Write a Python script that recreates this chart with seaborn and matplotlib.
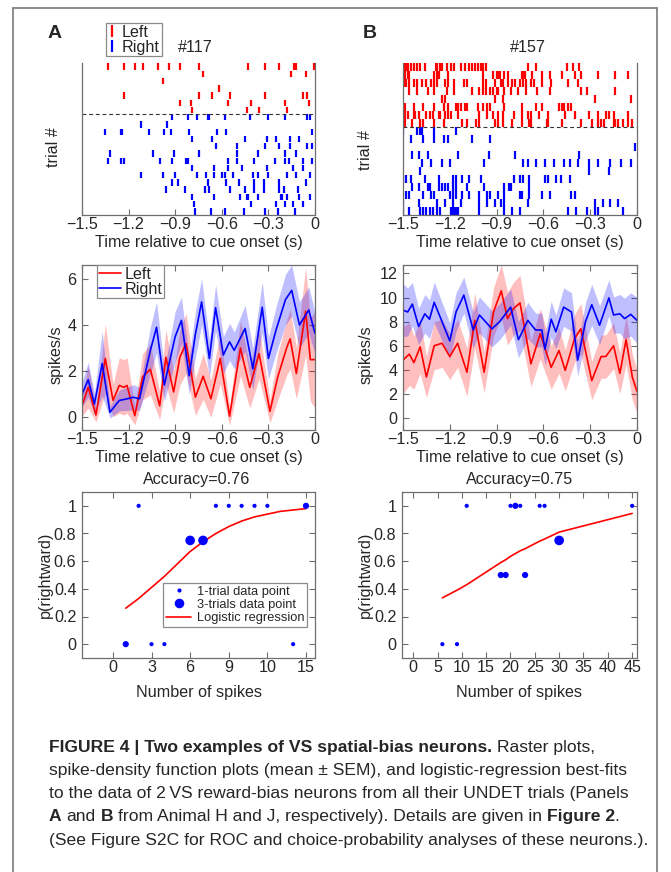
import numpy as np
import pandas as pd
import matplotlib
matplotlib.use('Agg')
import matplotlib.pyplot as plt
from matplotlib.lines import Line2D
from matplotlib.transforms import IdentityTransform
import seaborn as sns

W, H = 671, 872

# ---------------- raster data (spike times, s; trial 1 at top) ----------------
raster_a_left = [
    [-1.33, -1.23, -1.16, -1.11, -1.01, -0.94, -0.87, -0.75, -0.43, -0.32, -0.23, -0.135, -0.124, -0.006],
    [-0.72, -0.155, -0.058],
    [-0.98],
    [-0.62],
    [-1.23, -0.75, -0.66, -0.55, -0.32, -0.08, -0.05],
    [-0.87, -0.80, -0.56, -0.41, -0.19, -0.04],
    [-0.79, -0.44, -0.36, -0.18],
]
raster_a_right = [
    [-0.92, -0.82, -0.76, -0.69, -0.68, -0.58, -0.42, -0.30, -0.19, -0.05, -0.03],
    [-1.12, -0.95],
    [-1.35, -1.25, -1.24, -1.07, -0.97, -0.93, -0.81, -0.63, -0.57, -0.02],
    [-0.79, -0.66, -0.45, -0.31, -0.25, -0.16, -0.10],
    [-0.64, -0.50, -0.32, -0.23, -0.16, -0.05, -0.02],
    [-1.32, -1.04, -0.91, -0.75, -0.50, -0.37, -0.19, -0.12],
    [-1.33, -1.25, -1.23, -1.00, -0.92, -0.83, -0.82, -0.56, -0.50, -0.39, -0.26, -0.19, -0.17, -0.08, -0.02],
    [-0.79, -0.65, -0.56, -0.47, -0.31, -0.14, -0.08],
    [-1.12, -0.98, -0.90, -0.76, -0.70, -0.65, -0.60, -0.58, -0.53, -0.40, -0.37, -0.30, -0.18, -0.12, -0.03],
    [-0.92, -0.88, -0.69, -0.57, -0.49, -0.39, -0.33, -0.23, -0.06],
    [-0.96, -0.84, -0.71, -0.68, -0.55, -0.45, -0.39, -0.33, -0.23, -0.20, -0.11],
    [-0.79, -0.65, -0.48, -0.44, -0.43, -0.37, -0.22, -0.21, -0.18, -0.10, -0.03],
    [-0.78, -0.41, -0.25, -0.19, -0.14, -0.08],
    [-0.77, -0.67, -0.58, -0.46, -0.32, -0.24, -0.13],
]
raster_b_left = [
    [-1.49, -1.48, -1.47, -1.45, -1.43, -1.41, -1.39, -1.36, -1.29, -1.28, -1.26, -1.25, -1.22, -1.19, -1.17,
     -1.13, -1.10, -1.08, -1.06, -1.04, -1.02, -1.00, -0.99, -0.97, -0.70, -0.65, -0.45, -0.41, -0.37],
    [-1.50, -1.49, -1.47, -1.46, -1.30, -1.28, -1.27, -1.21, -0.99, -0.92, -0.90, -0.89, -0.88, -0.85, -0.83,
     -0.74, -0.73, -0.72, -0.67, -0.61, -0.56, -0.48, -0.40, -0.36, -0.25, -0.14, -0.06],
    [-1.50, -1.49, -1.48, -1.46, -1.43, -1.41, -1.38, -1.35, -1.32, -1.30, -1.28, -1.23, -1.21, -1.17, -1.11,
     -1.09, -0.99, -0.97, -0.91, -0.87, -0.86, -0.83, -0.80, -0.78, -0.75, -0.73, -0.71, -0.68, -0.66, -0.61,
     -0.55, -0.44, -0.38],
    [-1.46, -1.41, -1.34, -1.30, -1.22, -1.17, -1.06, -1.01, -0.99, -0.97, -0.94, -0.92, -0.90, -0.89, -0.85,
     -0.81, -0.76, -0.71, -0.64, -0.56, -0.36, -0.32, -0.14],
    [-1.25, -1.23, -0.91, -0.86, -0.27, -0.04],
    [-1.49, -1.43, -1.37, -1.30, -1.24, -1.21, -1.16, -1.15, -1.13, -1.10, -1.09, -1.02, -0.99, -0.96, -0.94,
     -0.85, -0.74, -0.65, -0.61, -0.50, -0.48, -0.47, -0.44, -0.42],
    [-1.49, -1.47, -1.43, -1.42, -1.40, -1.35, -1.33, -1.31, -1.27, -1.26, -1.23, -1.21, -1.19, -1.15, -1.01,
     -0.96, -0.92, -0.89, -0.86, -0.79, -0.74, -0.70, -0.68, -0.63, -0.57, -0.46, -0.40, -0.31, -0.25, -0.20,
     -0.18, -0.15, -0.06],
    [-1.49, -1.44, -1.39, -1.37, -1.30, -1.24, -1.12, -1.09, -1.03, -1.01, -0.91, -0.89, -0.86, -0.80, -0.74,
     -0.69, -0.68, -0.58, -0.57, -0.48, -0.36, -0.29, -0.25, -0.23, -0.21, -0.15, -0.14, -0.12, -0.09, -0.06, -0.03],
]
raster_b_right = [
    [-1.50, -1.41, -1.39, -1.38, -1.30, -1.16],
    [-1.45, -1.37, -1.30, -1.24, -1.21, -1.06, -0.94],
    [-0.01],
    [-1.44, -1.40, -1.34, -1.15, -0.95, -0.78, -0.37],
    [-1.38, -1.32, -1.25, -1.20, -0.98, -0.73, -0.70, -0.65, -0.59, -0.53, -0.47, -0.43, -0.38, -0.31, -0.25,
     -0.17, -0.10, -0.04],
    [-1.39, -0.31, -0.18],
    [-1.50, -1.48, -1.45, -1.36, -1.27, -1.18, -1.16, -1.12, -1.08, -1.00, -0.79, -0.75, -0.73, -0.69, -0.59,
     -0.57, -0.52, -0.49, -0.43],
    [-1.44, -1.40, -1.34, -1.33, -1.27, -1.25, -1.23, -1.21, -1.18, -1.16, -1.09, -0.98, -0.85, -0.82, -0.81, -0.69],
    [-1.48, -1.46, -1.37, -1.32, -1.30, -1.20, -1.18, -1.16, -1.12, -1.08, -1.01, -0.96, -0.94, -0.89, -0.85,
     -0.75, -0.74, -0.69, -0.61, -0.56, -0.42, -0.40],
    [-1.50, -1.40, -1.28, -1.23, -1.18, -1.13, -1.01, -0.96, -0.91, -0.87, -0.85, -0.70, -0.27, -0.22, -0.17, -0.12],
    [-1.50, -1.46, -1.39, -1.37, -1.35, -1.33, -1.31, -1.28, -1.26, -1.19, -1.18, -1.17, -1.16, -1.15, -1.01,
     -0.85, -0.80, -0.75, -0.44, -0.39, -0.32, -0.27, -0.25, -0.09],
]

# ---------------- spike density (mean, SEM) ----------------
sdf_a_right_t = [-1.50, -1.46, -1.42, -1.37, -1.32, -1.26, -1.21, -1.17, -1.13, -1.06, -1.02, -0.97, -0.90, -0.86,
                 -0.81, -0.77, -0.73, -0.68, -0.64, -0.59, -0.55, -0.52, -0.45, -0.40, -0.34, -0.30, -0.25, -0.19,
                 -0.15, -0.10, -0.04, 0.00]
sdf_a_right_m = [1.00, 1.63, 0.58, 2.33, 0.22, 0.73, 0.80, 0.87, 0.80, 2.90, 3.90, 1.40, 3.50, 4.20,
                 1.80, 3.60, 5.00, 2.55, 4.75, 2.70, 3.27, 2.90, 3.85, 2.10, 4.77, 2.55, 3.80, 5.10,
                 5.50, 4.00, 4.65, 3.64]
sdf_a_right_s = [0.55, 0.75, 0.45, 1.40, 0.25, 0.45, 0.50, 0.55, 0.50, 1.00, 1.10, 0.70, 1.10, 1.00,
                 0.80, 1.00, 1.00, 0.80, 1.00, 0.80, 0.80, 0.80, 1.00, 0.90, 1.10, 0.90, 1.00, 1.10,
                 1.10, 1.00, 1.00, 0.90]
sdf_a_left_t = [-1.50, -1.46, -1.41, -1.35, -1.30, -1.26, -1.23, -1.21, -1.16, -1.11, -1.06, -1.00, -0.96, -0.91,
                -0.87, -0.83, -0.77, -0.72, -0.67, -0.61, -0.55, -0.48, -0.42, -0.36, -0.29, -0.24, -0.18, -0.16,
                -0.12, -0.06, -0.03, 0.00]
sdf_a_left_m = [0.50, 1.30, 0.10, 2.55, 0.73, 1.38, 1.30, 1.38, 0.07, 1.75, 2.08, 0.50, 2.60, 1.10,
                2.60, 3.20, 0.87, 1.78, 0.80, 2.55, 0.05, 3.00, 1.30, 2.76, 0.26, 1.75, 3.06, 3.40,
                1.90, 4.60, 2.50, 2.50]
sdf_a_left_s = [0.45, 0.90, 0.30, 1.50, 0.70, 1.20, 1.20, 1.20, 0.40, 1.00, 1.10, 0.60, 1.20, 0.90,
                1.20, 1.30, 0.80, 1.00, 0.80, 1.10, 0.40, 1.20, 0.90, 1.10, 0.50, 1.00, 1.20, 1.30,
                1.10, 1.90, 1.80, 2.10]

sdf_b_right_t = [-1.50, -1.47, -1.44, -1.40, -1.36, -1.33, -1.30, -1.25, -1.20, -1.16, -1.11, -1.05, -1.01, -0.93,
                 -0.88, -0.81, -0.76, -0.70, -0.65, -0.61, -0.59, -0.55, -0.52, -0.47, -0.42, -0.38, -0.33, -0.29,
                 -0.24, -0.18, -0.15, -0.11, -0.08, -0.04, 0.00]
sdf_b_right_m = [8.95, 8.80, 9.45, 7.60, 8.65, 8.20, 9.60, 8.00, 6.40, 8.80, 10.20, 7.30, 8.55, 7.40,
                 8.00, 9.20, 6.50, 8.10, 7.30, 7.30, 5.70, 8.20, 7.15, 9.20, 8.80, 4.80, 8.00, 9.40,
                 7.70, 9.97, 8.55, 8.65, 8.25, 8.60, 8.10]
sdf_b_right_s = [2.20, 2.00, 1.80, 1.50, 1.60, 1.60, 1.70, 1.60, 1.50, 1.60, 1.50, 1.50, 1.50, 1.50,
                 1.50, 1.50, 1.50, 1.50, 1.40, 1.40, 1.30, 1.50, 1.40, 1.60, 1.60, 1.30, 1.60, 1.70,
                 1.60, 1.50, 1.50, 1.60, 1.70, 1.80, 1.90]
sdf_b_left_t = [-1.50, -1.46, -1.43, -1.39, -1.35, -1.30, -1.25, -1.20, -1.15, -1.09, -1.04, -0.98, -0.92, -0.87,
                -0.83, -0.79, -0.75, -0.68, -0.62, -0.55, -0.50, -0.46, -0.40, -0.36, -0.29, -0.23, -0.20, -0.15,
                -0.11, -0.07, -0.03, 0.00]
sdf_b_left_m = [4.80, 5.30, 4.60, 5.90, 3.40, 6.00, 6.20, 5.10, 6.20, 3.80, 8.10, 3.80, 8.80, 10.55,
                8.25, 9.10, 9.55, 4.50, 7.00, 4.20, 5.60, 3.95, 6.60, 7.40, 3.10, 5.10, 5.10, 6.00,
                3.70, 6.50, 3.40, 2.20]
sdf_b_left_s = [2.80, 2.60, 2.20, 2.20, 1.70, 2.00, 2.00, 1.90, 2.00, 2.00, 2.30, 1.70, 2.00, 2.20,
                2.20, 2.20, 2.30, 1.90, 2.10, 1.80, 1.90, 1.70, 2.00, 2.10, 1.60, 1.80, 1.80, 1.90,
                1.70, 2.00, 1.90, 1.80]

# ---------------- logistic regression panels ----------------
log_a_spikes = [2, 8, 9, 10, 11, 12, 15, 1, 3, 4, 14, 6, 7]
log_a_prob = [1, 1, 1, 1, 1, 1, 1, 0, 0, 0, 0, 0.75, 0.75]
log_a_ntrial = [1, 1, 1, 1, 1, 1, 2, 2, 1, 1, 1, 3, 3]
fit_a_x = [1, 2, 3, 4, 5, 6, 7, 8, 9, 10, 11, 12, 13, 14, 15]
fit_a_y = [0.26, 0.33, 0.41, 0.49, 0.58, 0.67, 0.74, 0.80, 0.85, 0.89, 0.92, 0.94, 0.96, 0.97, 0.98]
xtick_a = [0, 3, 6, 9, 12, 15]
xtick_a_lab = ['0', '3', '6', '9', '10', '15']

log_b_spikes = [11, 20, 21, 22, 26, 27, 45, 6, 9, 18, 19, 23, 30]
log_b_prob = [1, 1, 1, 1, 1, 1, 1, 0, 0, 0.5, 0.5, 0.5, 0.75]
log_b_ntrial = [1, 1, 2, 1, 1, 1, 1, 1, 1, 2, 2, 2, 3]
fit_b_x = [6, 9, 11, 18, 19, 20, 21, 22, 23, 26, 27, 30, 45]
fit_b_y = [0.335, 0.39, 0.43, 0.59, 0.61, 0.635, 0.655, 0.675, 0.69, 0.745, 0.76, 0.81, 0.945]
xtick_b = [0, 5, 10, 15, 20, 25, 30, 35, 40, 45]

RED, BLUE = '#ff0000', '#0000ff'
GRAY = '#6e6e6e'
FS = 11.6

sns.set_style('white')
plt.rcParams['font.family'] = ['Liberation Sans', 'DejaVu Sans']
plt.rcParams['axes.unicode_minus'] = True

fig = plt.figure(figsize=(W / 100, H / 100), dpi=100, facecolor='white')


def px_axes(x0, y0, x1, y1):
    return fig.add_axes([x0 / W, 1 - y1 / H, (x1 - x0) / W, (y1 - y0) / H])


def style(ax, box=True):
    for s in ax.spines.values():
        s.set_color(GRAY)
        s.set_linewidth(0.9)
    ax.tick_params(direction='in', length=4, width=0.8, color=GRAY, labelsize=FS,
                   top=box, right=box, bottom=True, left=True)
    ax.tick_params(axis='x', pad=1.5)
    ax.tick_params(axis='y', pad=4)


def raster(ax, left, right, title, tx):
    n_l = len(left)
    rows = left + right
    cols = [RED] * n_l + [BLUE] * len(right)
    ax.eventplot(rows, lineoffsets=np.arange(1, len(rows) + 1), linelengths=0.88,
                 linewidths=1.6, colors=cols)
    ax.axhline(n_l + 0.5, color='#333333', lw=0.8, ls=(0, (3.5, 2.5)))
    ax.set_xlim(-1.5, 0)
    ax.set_ylim(len(rows) + 0.5, 0.5)
    ax.set_yticks([])
    ax.set_xticks([-1.5, -1.2, -0.9, -0.6, -0.3, 0])
    ax.set_xticklabels(['\u22121.5', '\u22121.2', '\u22120.9', '\u22120.6', '\u22120.3', '0'])
    style(ax, box=False)
    ax.tick_params(left=False)
    ax.spines['top'].set_visible(False)
    ax.text(tx, 1.099, title, transform=ax.transAxes, ha='center', va='center', fontsize=FS)


def sdf(ax, ta, ma, sa, tb, mb, sb, ylim, yticks):
    for t, m, s, c in [(ta, ma, sa, RED), (tb, mb, sb, BLUE)]:
        t, m, s = np.array(t), np.array(m), np.array(s)
        ax.fill_between(t, m - s, m + s, color=c, alpha=0.25, lw=0)
    df = pd.concat([pd.DataFrame({'t': ta, 'rate': ma, 'side': 'Left'}),
                    pd.DataFrame({'t': tb, 'rate': mb, 'side': 'Right'})])
    sns.lineplot(data=df, x='t', y='rate', hue='side', palette={'Left': RED, 'Right': BLUE},
                 lw=1.2, ax=ax, legend=False, sort=True, solid_joinstyle='round')
    ax.set_xlim(-1.5, 0)
    ax.set_ylim(*ylim)
    ax.set_xticks([-1.5, -1.2, -0.9, -0.6, -0.3, 0])
    ax.set_xticklabels(['\u22121.5', '\u22121.2', '\u22120.9', '\u22120.6', '\u22120.3', '0'])
    ax.set_yticks(yticks)
    style(ax)


def logistic(ax, xs, ps, ns, fx, fy, xlim, xt, xtl, title, tx):
    df = pd.DataFrame({'spikes': xs, 'p': ps, 'n': ns})
    sns.scatterplot(data=df, x='spikes', y='p', size='n', sizes={1: 9, 2: 20, 3: 48},
                    color=BLUE, edgecolor='none', ax=ax, legend=False, zorder=3)
    ax.plot(fx, fy, color=RED, lw=1.2, zorder=2)
    ax.set_xlim(*xlim)
    ax.set_ylim(-0.1, 1.1)
    ax.set_xticks(xt)
    ax.set_xticklabels(xtl)
    ax.set_yticks([0, 0.2, 0.4, 0.6, 0.8, 1])
    ax.set_yticklabels(['0', '0.2', '0.4', '0.6', '0.8', '1'])
    style(ax)
    ax.text(tx, 1.078, title, transform=ax.transAxes, ha='center', va='center', fontsize=FS)


def labels(ax, xl, yl, xpos, ypos, ylx, yly):
    ax.set_xlabel(xl, fontsize=FS, va='center')
    ax.xaxis.set_label_coords(xpos, ypos)
    ax.set_ylabel(yl, fontsize=FS, va='center')
    ax.yaxis.set_label_coords(ylx, yly)


# ---- row 1: rasters
ax1 = px_axes(82, 63, 315, 215)
raster(ax1, raster_a_left, raster_a_right, '#117', 0.485)
labels(ax1, 'Time relative to cue onset (s)', 'trial #', 0.5, -0.178, -0.124, 0.45)
ax2 = px_axes(403, 63, 637, 215)
raster(ax2, raster_b_left, raster_b_right, '#157', 0.534)
labels(ax2, 'Time relative to cue onset (s)', 'trial #', 0.5, -0.178, -0.162, 0.43)

leg_h = [Line2D([], [], color=RED, marker='|', ls='none', ms=9, mew=1.6),
         Line2D([], [], color=BLUE, marker='|', ls='none', ms=9, mew=1.6)]
lg = fig.legend(leg_h, ['Left', 'Right'], loc='upper left', bbox_to_anchor=(106 / W, 1 - 23 / H),
                borderaxespad=0, fontsize=FS, handlelength=0.6, handletextpad=0.3, borderpad=0.1,
                labelspacing=0.0, fancybox=False, framealpha=1, edgecolor='#8a8a8a')
lg.get_frame().set_linewidth(0.9)

# ---- row 2: spike density
ax3 = px_axes(82, 265, 315, 430)
sdf(ax3, sdf_a_left_t, sdf_a_left_m, sdf_a_left_s, sdf_a_right_t, sdf_a_right_m, sdf_a_right_s,
    (-0.55, 6.6), [0, 2, 4, 6])
labels(ax3, 'Time relative to cue onset (s)', 'spikes/s', 0.5, -0.164, -0.112, 0.455)
lh = [Line2D([], [], color=RED, lw=1.2), Line2D([], [], color=BLUE, lw=1.2)]
lg3 = ax3.legend(lh, ['Left', 'Right'], loc='upper left', bbox_to_anchor=((97 - 82) / 233, 1.0),
                 borderaxespad=0, fontsize=FS, handlelength=1.4, handletextpad=0.2, borderpad=0.1,
                 labelspacing=0.0, fancybox=False, framealpha=1, edgecolor='#8a8a8a')
lg3.get_frame().set_linewidth(0.9)

ax4 = px_axes(403, 265, 637, 430)
sdf(ax4, sdf_b_left_t, sdf_b_left_m, sdf_b_left_s, sdf_b_right_t, sdf_b_right_m, sdf_b_right_s,
    (-1.0, 12.7), [0, 2, 4, 6, 8, 10, 12])
labels(ax4, 'Time relative to cue onset (s)', 'spikes/s', 0.5, -0.164, -0.158, 0.455)

# ---- row 3: logistic regression
ax5 = px_axes(82, 492, 315, 658)
logistic(ax5, log_a_spikes, log_a_prob, log_a_ntrial, fit_a_x, fit_a_y, (-2.4, 15.7),
         xtick_a, xtick_a_lab, 'Accuracy=0.76', 0.494)
labels(ax5, 'Number of spikes', 'p(rightward)', 0.5, -0.205, -0.159, 0.5)
lh5 = [Line2D([], [], color=BLUE, marker='o', ls='none', ms=3.0, mec='none'),
       Line2D([], [], color=BLUE, marker='o', ls='none', ms=6.9, mec='none'),
       Line2D([], [], color=RED, lw=1.2)]
lg5 = ax5.legend(lh5, ['1-trial data point', '3-trials data point', 'Logistic regression'],
                 loc='upper left', bbox_to_anchor=((163 - 82) / 233, 1 - (583 - 492) / 166),
                 borderaxespad=0, fontsize=9.3, handlelength=2.0, handletextpad=0.4, borderpad=0.2,
                 labelspacing=0.1, fancybox=False, framealpha=1, edgecolor='#8a8a8a')
lg5.get_frame().set_linewidth(0.9)

ax6 = px_axes(402, 492, 637, 658)
logistic(ax6, log_b_spikes, log_b_prob, log_b_ntrial, fit_b_x, fit_b_y, (-2.3, 46),
         xtick_b, [str(v) for v in xtick_b], 'Accuracy=0.75', 0.502)
labels(ax6, 'Number of spikes', 'p(rightward)', 0.5, -0.205, -0.157, 0.5)

# ---- panel letters
fig.text(55 / W, 1 - 33 / H, 'A', fontsize=14, fontweight='bold', ha='center', va='center')
fig.text(370 / W, 1 - 33 / H, 'B', fontsize=14, fontweight='bold', ha='center', va='center')

# ---- frame
for xs, ys in [([13, 13], [8, H]), ([13, 657], [8, 8]), ([657, 657], [8, H])]:
    fig.add_artist(Line2D([x / W for x in xs], [1 - y / H for y in ys], color='#7a7a7a', lw=1.2))

# ---- caption
cap_font = ['Liberation Sans Narrow', 'Liberation Sans', 'DejaVu Sans']
cap_fs = 12.6
caption = [
    [('FIGURE 4 | Two examples of VS spatial-bias neurons.', True), ('Raster plots,', False)],
    [('spike-density function plots (mean \u00b1 SEM), and logistic-regression best-fits', False)],
    [('to the data of 2\u2009VS reward-bias neurons from all their UNDET trials (Panels', False)],
    [('A', True), ('and', False), ('B', True),
     ('from Animal H and J, respectively). Details are given in', False), ('Figure 2', True), ('.', False)],
    [('(See Figure S2C for ROC and choice-probability analyses of these neurons.).', False)],
]
cap_y = [747, 770, 793, 816, 840]
renderer = fig.canvas.get_renderer()
probe1 = fig.text(0, 0, 'x x', fontsize=cap_fs, family=cap_font)
probe2 = fig.text(0, 0, 'xx', fontsize=cap_fs, family=cap_font)
space_w = probe1.get_window_extent(renderer).width - probe2.get_window_extent(renderer).width
probe1.remove()
probe2.remove()
for parts, yy in zip(caption, cap_y):
    x = 49
    for i, (txt, bold) in enumerate(parts):
        if i > 0 and txt != '.':
            x += space_w
        t = fig.text(x, H - yy, txt, fontsize=cap_fs, family=cap_font,
                     fontweight='bold' if bold else 'normal', va='center', ha='left',
                     transform=IdentityTransform())
        x += t.get_window_extent(renderer).width

fig.savefig('out.png', dpi=100, facecolor='white')
